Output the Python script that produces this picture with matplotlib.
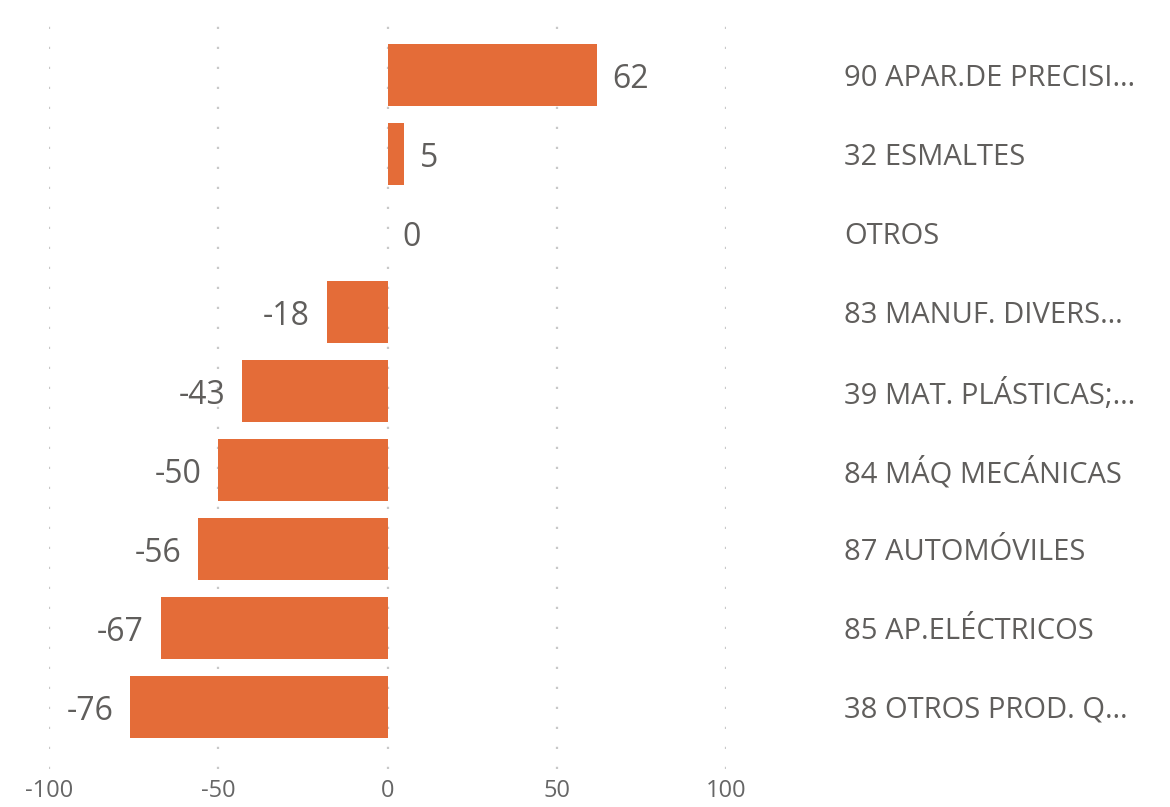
import matplotlib.pyplot as plt
import numpy as np

# data
categories = ['90 APAR.DE PRECISI…', '32 ESMALTES', 'OTROS', '83 MANUF. DIVERS…',
              '39 MAT. PLÁSTICAS;…', '84 MÁQ MECÁNICAS', '87 AUTOMÓVILES',
              '85 AP.ELÉCTRICOS', '38 OTROS PROD. Q…']
values = [62, 5, 0, -18, -43, -50, -56, -67, -76]
xticks = [-100, -50, 0, 50, 100]

bar_color = '#E46C38'
text_color = '#605E5C'
plt.rcParams['font.family'] = ['Open Sans', 'DejaVu Sans']

fig = plt.figure(figsize=(11.7, 8.07), dpi=100)
ax = fig.add_axes([49 / 1170, 38 / 807, 677 / 1170, 756 / 807])

ypos = np.arange(len(categories))
ax.barh(ypos, values, height=0.785, color=bar_color, zorder=2)

# data labels next to the bar ends
for y, v in zip(ypos, values):
    if v >= 0:
        ax.annotate(str(v), (v, y), xytext=(11, -3), textcoords='offset points',
                    ha='left', va='center', fontsize=23, color=text_color)
    else:
        ax.annotate(str(v), (v, y), xytext=(-12, -3), textcoords='offset points',
                    ha='right', va='center', fontsize=23, color=text_color)

ax.set_xlim(-100, 100)
ax.set_ylim(len(categories) - 1 + 0.785, -0.785)
ax.set_xticks(xticks)
ax.set_xticklabels([str(t) for t in xticks])
ax.set_yticks(ypos)
ax.set_yticklabels(categories)
ax.yaxis.tick_right()

ax.tick_params(axis='x', length=0, pad=7, labelsize=17, labelcolor='#666666')
ax.tick_params(axis='y', length=0, pad=85, labelsize=21, labelcolor=text_color)
for lbl in ax.get_yticklabels():
    lbl.set_horizontalalignment('left')

ax.grid(axis='x', color='#C8C8C8', linestyle=(0, (1, 8)), linewidth=1.6, zorder=0)
ax.grid(axis='y', visible=False)
for s in ax.spines.values():
    s.set_visible(False)

fig.savefig('out.png', dpi=100, facecolor='white')
